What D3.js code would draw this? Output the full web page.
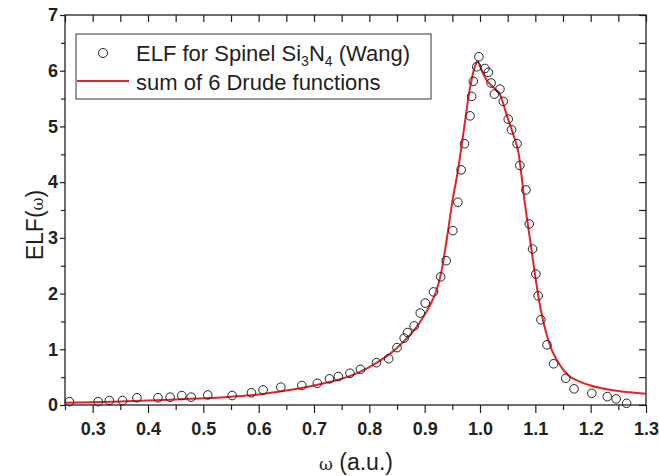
<!DOCTYPE html>
<html>
<head>
<meta charset="utf-8">
<script src="https://cdn.jsdelivr.net/npm/d3@7"></script>
<style>
body{margin:0;background:#fff;}
svg{display:block;font-family:"Liberation Sans",Arial,sans-serif;}
</style>
</head>
<body>
<svg id="svg1" width="659" height="476"></svg>
<script>
// ELF data points (omega, ELF)
const elfX = [0.258,0.310,0.330,0.354,0.380,0.418,0.440,0.461,0.478,0.508,0.552,0.587,
  0.608,0.640,0.678,0.706,0.728,0.744,0.765,0.784,0.813,0.835,0.850,0.863,0.869,0.881,
  0.892,0.901,0.916,0.929,0.939,0.951,0.960,0.966,0.972,0.982,0.985,0.988,0.994,0.998,
  1.009,1.015,1.020,1.026,1.036,1.042,1.051,1.057,1.067,1.072,1.083,1.089,1.095,1.101,
  1.105,1.110,1.121,1.133,1.155,1.170,1.202,1.230,1.246,1.265];
const elfY = [0.06,0.06,0.08,0.08,0.13,0.13,0.14,0.17,0.14,0.18,0.17,0.22,
  0.27,0.32,0.35,0.39,0.47,0.51,0.57,0.64,0.76,0.83,1.03,1.20,1.30,1.42,
  1.65,1.83,2.03,2.30,2.59,3.13,3.64,4.22,4.69,5.19,5.54,5.81,6.07,6.25,
  6.04,5.97,5.78,5.58,5.67,5.45,5.13,4.94,4.69,4.30,3.86,3.25,2.80,2.35,
  1.96,1.53,1.08,0.74,0.48,0.29,0.21,0.15,0.11,0.03];

// sum of 6 Drude functions
const fitX = [0.25,0.30,0.35,0.40,0.45,0.50,0.55,0.60,0.65,0.70,0.75,0.78,0.80,0.82,0.84,
  0.86,0.88,0.90,0.91,0.92,0.93,0.94,0.95,0.96,0.97,0.98,0.99,0.996,1.00,1.01,1.02,1.03,
  1.035,1.04,1.05,1.06,1.07,1.08,1.09,1.10,1.11,1.12,1.13,1.14,1.15,1.16,1.18,1.20,1.22,
  1.25,1.30];
const fitY = [0.04,0.05,0.065,0.08,0.10,0.12,0.15,0.19,0.26,0.35,0.47,0.58,0.68,0.80,0.94,
  1.12,1.33,1.62,1.80,2.02,2.38,2.98,3.65,4.20,4.88,5.58,6.05,6.17,6.08,5.86,5.74,5.65,
  5.60,5.47,5.15,4.86,4.50,3.70,3.00,2.30,1.70,1.28,0.98,0.79,0.64,0.53,0.42,0.35,0.30,
  0.25,0.20];

const xMajor = [0.3,0.4,0.5,0.6,0.7,0.8,0.9,1.0,1.1,1.2,1.3];
const xMinor = [0.25,0.35,0.45,0.55,0.65,0.75,0.85,0.95,1.05,1.15,1.25];
const yMajor = [0,1,2,3,4,5,6,7];
const yMinor = [0.5,1.5,2.5,3.5,4.5,5.5,6.5];

const svg = d3.select('#svg1');
const margin = {left:65, right:13, top:15, bottom:71};
const width = 659, height = 476;
const x = d3.scaleLinear().domain([0.25,1.3]).range([margin.left, width-margin.right]);
const y = d3.scaleLinear().domain([0,7]).range([height-margin.bottom, margin.top]);
const ink = '#231f20';

// axes
function styleAxis(g){
  g.select('.domain').remove();
  g.selectAll('line').attr('stroke', ink).attr('stroke-width', 1.2);
  g.selectAll('text').attr('fill', ink).style('font-size','18px').style('font-weight','bold')
    .style('font-family','"Liberation Sans",Arial,sans-serif');
}
svg.append('g').attr('transform',`translate(0,${y(0)})`)
  .call(d3.axisBottom(x).tickValues(xMajor).tickFormat(d3.format('.1f')).tickSize(8).tickPadding(9))
  .call(styleAxis);
svg.append('g').attr('transform',`translate(0,${y(0)})`)
  .call(d3.axisBottom(x).tickValues(xMinor).tickFormat('').tickSize(5))
  .call(styleAxis);
svg.append('g').attr('transform',`translate(0,${y(7)})`)
  .call(d3.axisTop(x).tickValues(xMajor.concat(xMinor)).tickFormat('').tickSize(-7))
  .call(styleAxis);
svg.append('g').attr('transform',`translate(${x(0.25)},0)`)
  .call(d3.axisLeft(y).tickValues(yMajor).tickFormat(d3.format('d')).tickSize(5).tickPadding(2))
  .call(styleAxis);
svg.append('g').attr('transform',`translate(${x(0.25)},0)`)
  .call(d3.axisLeft(y).tickValues(yMinor).tickFormat('').tickSize(4))
  .call(styleAxis);
svg.append('g').attr('transform',`translate(${x(1.3)},0)`)
  .call(d3.axisRight(y).tickValues(yMajor.concat(yMinor)).tickFormat('').tickSize(-7))
  .call(styleAxis);

// frame
svg.append('rect')
  .attr('x', x(0.25)).attr('y', y(7))
  .attr('width', x(1.3)-x(0.25)).attr('height', y(0)-y(7))
  .attr('fill','none').attr('stroke', ink).attr('stroke-width',1.3);

// fit line
const fit = fitX.map((d,i)=>[d, fitY[i]]);
svg.append('path').datum(fit)
  .attr('d', d3.line().x(d=>x(d[0])).y(d=>y(d[1])).curve(d3.curveMonotoneX))
  .attr('fill','none').attr('stroke','#e8202a').attr('stroke-width',2);

// data circles
const pts = elfX.map((d,i)=>[d, elfY[i]]);
svg.selectAll('.pt').data(pts).enter().append('circle')
  .attr('class','pt')
  .attr('cx', d=>x(d[0])).attr('cy', d=>y(d[1])).attr('r',4.3)
  .attr('fill','none').attr('stroke','#222').attr('stroke-width',1);

// legend
const lg = svg.append('g');
lg.append('rect').attr('x',76).attr('y',34).attr('width',355).attr('height',65)
  .attr('fill','#fff').attr('stroke','#555').attr('stroke-width',1.2);
lg.append('circle').attr('cx',103).attr('cy',53).attr('r',4.5)
  .attr('fill','none').attr('stroke','#222').attr('stroke-width',1);
lg.append('line').attr('x1',77).attr('x2',129).attr('y1',81).attr('y2',81)
  .attr('stroke','#e8202a').attr('stroke-width',2);
const t1 = lg.append('text').attr('x',136).attr('y',61).attr('fill',ink).style('font-size','22px');
t1.append('tspan').text('ELF for Spinel Si');
t1.append('tspan').attr('dy',5).style('font-size','14px').text('3');
t1.append('tspan').attr('dy',-5).text('N');
t1.append('tspan').attr('dy',5).style('font-size','14px').text('4');
t1.append('tspan').attr('dy',-5).text(' (Wang)');
lg.append('text').attr('x',136).attr('y',90).attr('fill',ink).style('font-size','22px')
  .text('sum of 6 Drude functions');

// axis titles
const xt = svg.append('text').attr('x',356).attr('y',470).attr('text-anchor','middle')
  .attr('fill',ink).style('font-size','23px');
xt.append('tspan').style('font-family','"DejaVu Serif",serif').style('font-size','17px').text('ω');
xt.append('tspan').text(' (a.u.)');
const yt = svg.append('text').attr('transform','translate(43,225) rotate(-90)')
  .attr('text-anchor','middle').attr('fill',ink).style('font-size','23px');
yt.append('tspan').text('ELF(');
yt.append('tspan').style('font-family','"DejaVu Serif",serif').style('font-size','16px').text('ω');
yt.append('tspan').text(')');
</script>
</body>
</html>
